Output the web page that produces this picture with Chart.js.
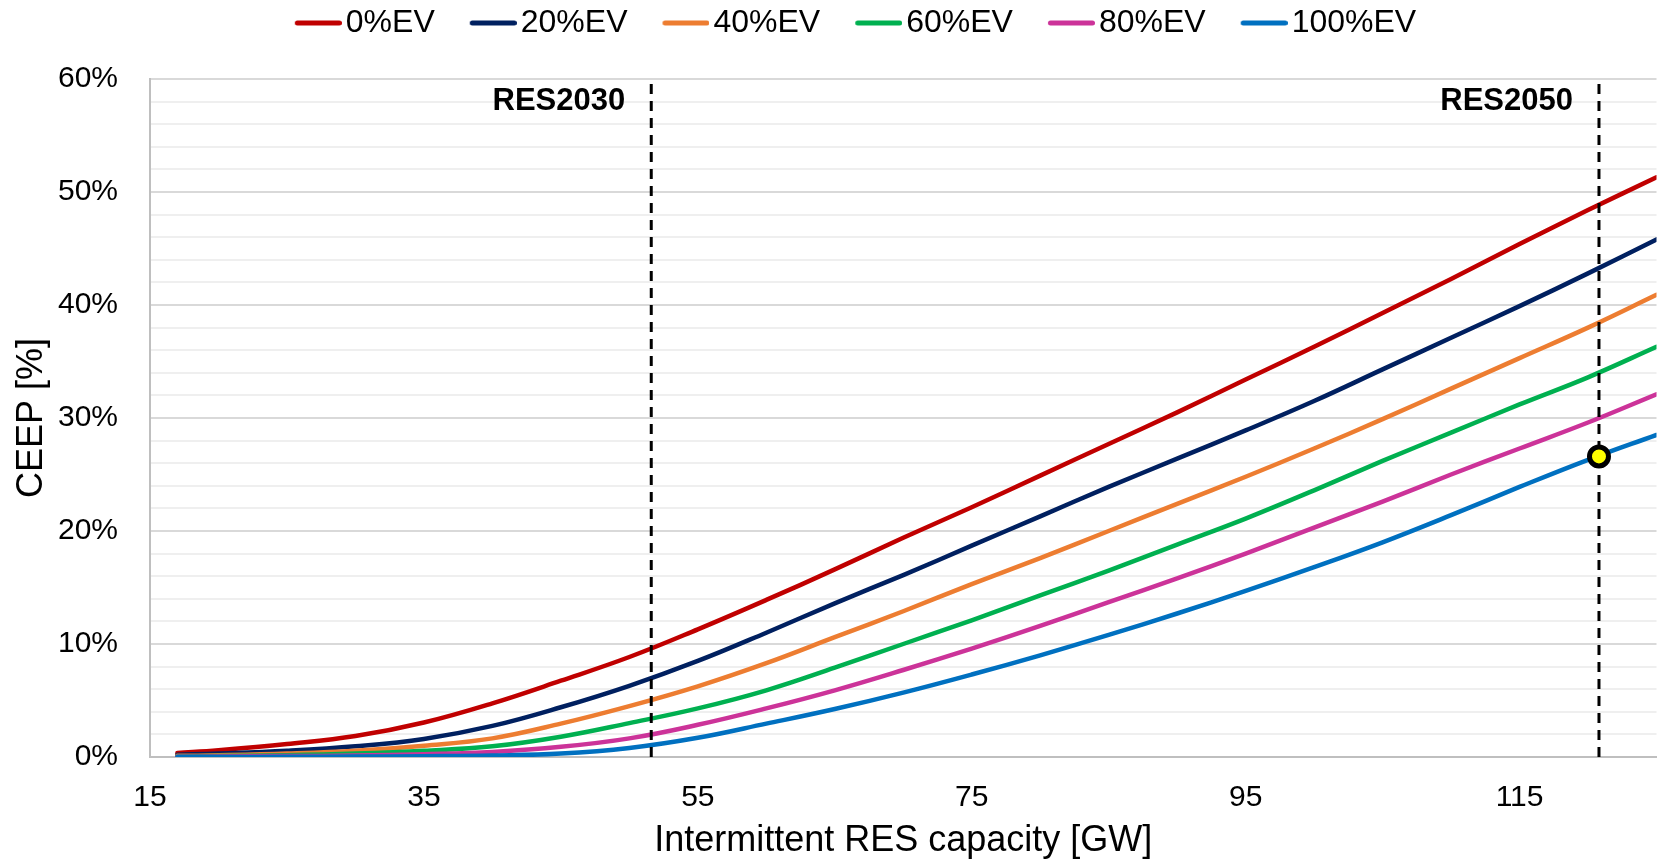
<!DOCTYPE html>
<html>
<head>
<meta charset="utf-8">
<title>CEEP vs intermittent RES capacity</title>
<script src="https://cdn.jsdelivr.net/npm/chart.js@4.4.1/dist/chart.umd.min.js"></script>
<style>
  html, body { margin: 0; padding: 0; background: #fff; }
  #wrap { width: 1671px; height: 865px; }
</style>
</head>
<body>
<div id="wrap"><canvas id="ceepChart" width="1671" height="865"></canvas></div>
<script>
// Intermittent RES capacity [GW] where the curves were read
const capacityGW = [17, 20, 25, 30, 35, 40, 45, 50, 55, 60, 65, 70, 75, 80, 85, 90, 95, 100, 105, 110, 115, 120, 125];

// CEEP [%] per EV share
const ev0   = [0.35, 0.6, 1.15, 1.85, 3.05, 4.75, 6.75, 8.85, 11.3, 13.9, 16.6, 19.4, 22.1, 24.9, 27.7, 30.5, 33.4, 36.3, 39.3, 42.3, 45.4, 48.4, 51.3];
const ev20  = [0.2, 0.3, 0.55, 0.95, 1.6, 2.75, 4.4, 6.3, 8.5, 11.0, 13.6, 16.1, 18.7, 21.3, 23.9, 26.4, 28.9, 31.5, 34.3, 37.1, 39.9, 42.8, 45.8];
const ev40  = [0.1, 0.15, 0.3, 0.55, 1.0, 1.65, 2.95, 4.5, 6.25, 8.3, 10.6, 12.9, 15.3, 17.6, 20.0, 22.4, 24.8, 27.3, 29.9, 32.6, 35.3, 38.0, 40.9];
const ev60  = [0.05, 0.08, 0.15, 0.3, 0.55, 0.95, 1.8, 3.0, 4.3, 5.9, 7.9, 10.0, 12.1, 14.3, 16.5, 18.8, 21.1, 23.6, 26.2, 28.7, 31.2, 33.6, 36.3];
const ev80  = [0.02, 0.04, 0.08, 0.13, 0.25, 0.45, 0.9, 1.65, 2.85, 4.3, 5.9, 7.7, 9.6, 11.6, 13.7, 15.8, 18.0, 20.3, 22.6, 25.0, 27.3, 29.6, 32.1];
const ev100 = [0, 0, 0.02, 0.04, 0.07, 0.13, 0.3, 0.8, 1.7, 2.95, 4.25, 5.7, 7.3, 9.0, 10.8, 12.7, 14.7, 16.8, 19.0, 21.4, 23.9, 26.3, 28.5];

const seriesLabels = ["0%EV", "20%EV", "40%EV", "60%EV", "80%EV", "100%EV"];
const seriesValues = [ev0, ev20, ev40, ev60, ev80, ev100];
const seriesColors = ["#c00000", "#002060", "#ed7d31", "#00b050", "#cc3399", "#0070c0"];

const xTickValues = [15, 35, 55, 75, 95, 115];

// RES milestones (vertical dashed lines) and the highlighted point
const resYears = ["RES2030", "RES2050"];
const resCapacity = [51.6, 120.8];
const resLabelLevel = 58;
const markerPoint = [120.8, 26.6];

const FONT = '"Liberation Sans", Arial, Helvetica, sans-serif';
Chart.defaults.font.family = FONT;
Chart.defaults.color = "#000";

// short line swatch for the legend, text follows right after it
function makeSwatch(color) {
  const c = document.createElement("canvas");
  c.width = 60;
  c.height = 12;
  const g = c.getContext("2d");
  g.strokeStyle = color;
  g.lineWidth = 5;
  g.lineCap = "round";
  g.beginPath();
  g.moveTo(15.5, 6);
  g.lineTo(57.5, 6);
  g.stroke();
  return c;
}
const swatches = seriesColors.map(makeSwatch);

const curveSets = seriesValues.map((vals, i) => ({
  label: seriesLabels[i],
  data: capacityGW.map((x, j) => ({ x, y: vals[j] })),
  borderColor: seriesColors[i],
  backgroundColor: seriesColors[i],
  borderWidth: 4.5,
  borderCapStyle: "round",
  borderJoinStyle: "round",
  pointRadius: 0,
  showLine: true,
  tension: 0.4,
  order: seriesLabels.length - i
}));

const resSets = resCapacity.map(x => ({
  label: "",
  data: [{ x, y: 0 }, { x, y: 60 }],
  borderColor: "#000",
  borderWidth: 3,
  borderDash: [10, 7],
  pointRadius: 0,
  showLine: true,
  order: 0
}));

const markerSet = {
  label: "",
  data: [{ x: markerPoint[0], y: markerPoint[1] }],
  pointRadius: 9.5,
  pointBackgroundColor: "#ffff00",
  pointBorderColor: "#000",
  pointBorderWidth: 5,
  showLine: false,
  order: -1
};

const resLabelPlugin = {
  id: "resLabels",
  afterDatasetsDraw(chart) {
    const { ctx, scales: { x, y } } = chart;
    ctx.save();
    ctx.font = "bold 31px " + FONT;
    ctx.fillStyle = "#000";
    ctx.textAlign = "right";
    ctx.textBaseline = "middle";
    resCapacity.forEach((gw, i) => {
      ctx.fillText(resYears[i], x.getPixelForValue(gw) - 26, y.getPixelForValue(resLabelLevel));
    });
    ctx.restore();
  }
};

// pin the legend row where it sits in the original
const legendPlacement = {
  id: "legendPlacement",
  beforeLayout(chart) {
    const legend = chart.legend;
    if (legend && !legend._fitPatched) {
      const fit = legend.fit;
      legend.fit = function () {
        fit.call(this);
        this.height = 79;
      };
      legend._fitPatched = true;
    }
  },
  afterLayout(chart) {
    const legend = chart.legend;
    if (!legend) return;
    legend.top = -27;
    legend.bottom = legend.top + legend.height;
    legend.left += 22;
    legend.right += 22;
  }
};

new Chart(document.getElementById("ceepChart"), {
  type: "scatter",
  data: { datasets: [...curveSets, ...resSets, markerSet] },
  options: {
    responsive: false,
    animation: false,
    events: [],
    layout: { padding: { left: 0, right: 5, top: 0, bottom: 0 } },
    plugins: {
      tooltip: { enabled: false },
      legend: {
        position: "top",
        labels: {
          usePointStyle: true,
          pointStyleWidth: 36,
          padding: 34,
          color: "#000",
          font: { size: 32 },
          filter: item => item.datasetIndex < seriesLabels.length,
          sort: (a, b) => a.datasetIndex - b.datasetIndex,
          generateLabels: chart =>
            Chart.defaults.plugins.legend.labels.generateLabels(chart).map(item => ({
              ...item,
              pointStyle: swatches[item.datasetIndex] || item.pointStyle
            }))
        }
      }
    },
    scales: {
      x: {
        type: "linear",
        min: 15,
        max: 125,
        afterBuildTicks: axis => {
          axis.ticks = xTickValues.map(value => ({ value }));
        },
        afterFit: axis => {
          axis.height = 108;
        },
        grid: { display: false, drawTicks: false },
        border: { color: "#bfbfbf", width: 2 },
        ticks: { font: { size: 30 }, color: "#000", padding: 23, maxRotation: 0, autoSkip: false },
        title: {
          display: true,
          text: "Intermittent RES capacity [GW]",
          color: "#000",
          font: { size: 36, lineHeight: 1 },
          padding: { top: 0, bottom: 6 }
        }
      },
      y: {
        min: 0,
        max: 60,
        afterFit: axis => {
          axis.width = 150;
        },
        grid: {
          drawTicks: false,
          lineWidth: 2,
          color: ctx => (ctx.tick && ctx.tick.value % 10 === 0 ? "#d9d9d9" : "#efefef")
        },
        border: { color: "#bfbfbf", width: 2 },
        ticks: {
          stepSize: 2,
          autoSkip: false,
          padding: 32,
          color: "#000",
          font: { size: 30 },
          callback: v => (v % 10 === 0 ? v + "%" : "")
        },
        title: {
          display: true,
          text: "CEEP [%]",
          color: "#000",
          font: { size: 36, lineHeight: 1 },
          padding: { top: 14, bottom: 0 }
        }
      }
    }
  },
  plugins: [resLabelPlugin, legendPlacement]
});
</script>
</body>
</html>
